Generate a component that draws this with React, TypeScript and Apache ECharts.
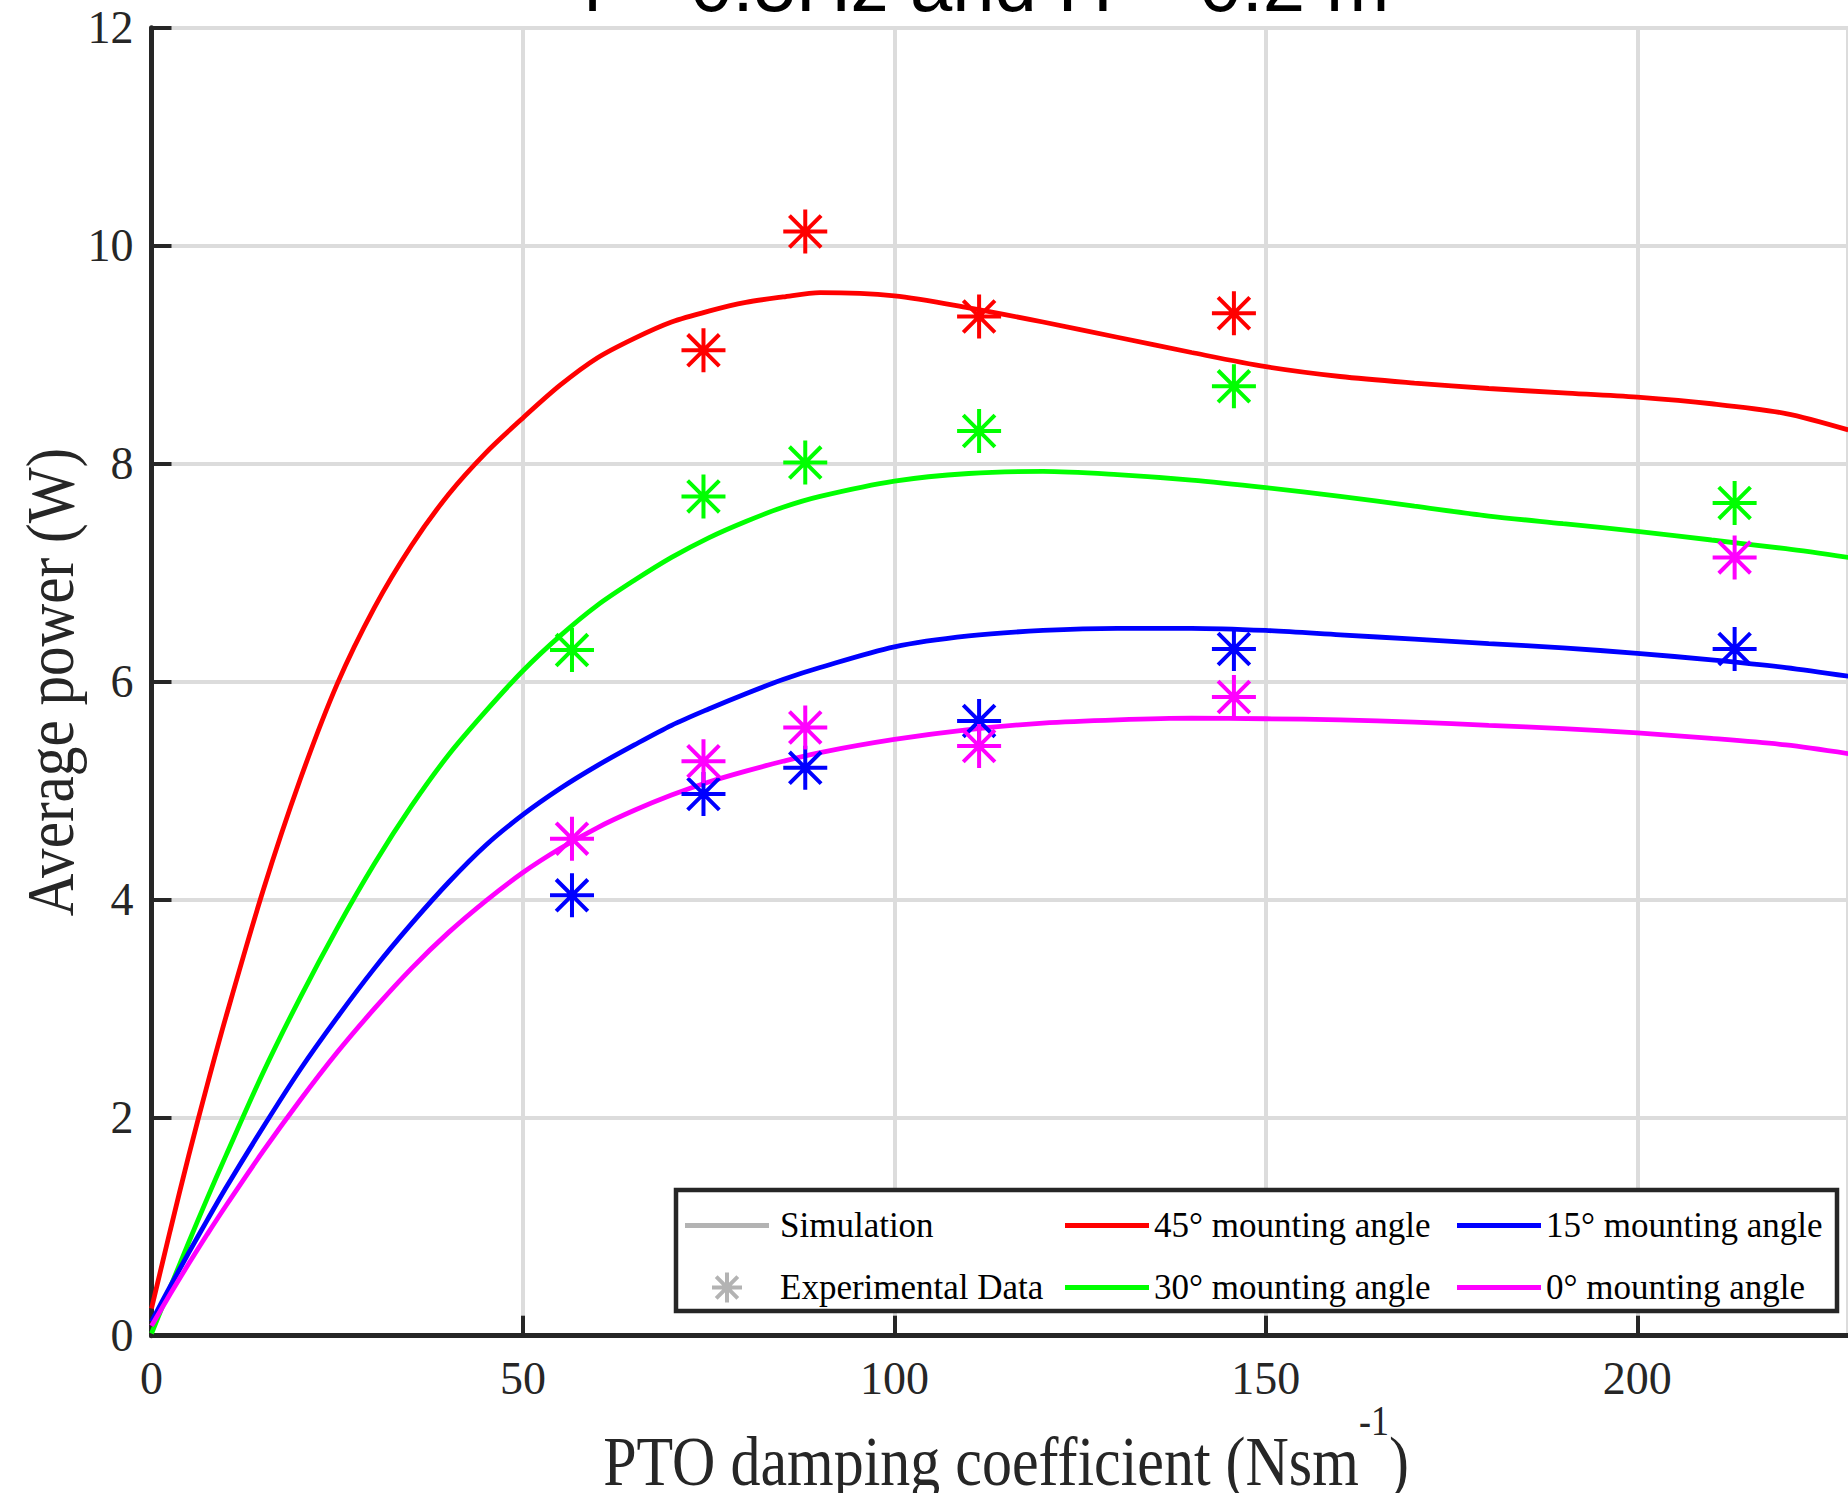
import React, { useEffect, useRef } from 'react';
import * as echarts from 'echarts';

// ---- data ----
const xTickValues = [0, 50, 100, 150, 200];
const yTickValues = [0, 2, 4, 6, 8, 10, 12];
const xMaxVisible = 228.36;

// simulation curves: [PTO damping, average power]
const sim45: number[][] = [
  [0, 0.25], [2.5, 0.96], [5, 1.65], [7.5, 2.3], [10, 2.92], [15, 4.08], [20, 5.1], [25, 5.98],
  [30, 6.68], [35, 7.25], [40, 7.72], [45, 8.1], [50, 8.42], [55, 8.72], [60, 8.97], [65, 9.15], [70, 9.3],
  [75, 9.4], [80, 9.48], [85, 9.53], [90, 9.57], [100, 9.54], [110, 9.43], [120, 9.3], [130, 9.16], [140, 9.02], [150, 8.89],
  [160, 8.8], [170, 8.74], [180, 8.69], [190, 8.65], [200, 8.61], [210, 8.55], [220, 8.46], [228.4, 8.31],
];
const sim30: number[][] = [
  [0, 0.02], [2.5, 0.44], [5, 0.855], [7.5, 1.26], [10, 1.65], [15, 2.41], [20, 3.1], [25, 3.74],
  [30, 4.33], [35, 4.86], [40, 5.33], [45, 5.73], [50, 6.1], [55, 6.42], [60, 6.7], [65, 6.93], [70, 7.14],
  [75, 7.32], [80, 7.47], [85, 7.6], [90, 7.7], [100, 7.84], [110, 7.91], [120, 7.93], [130, 7.9], [140, 7.85], [150, 7.78],
  [160, 7.7], [170, 7.61], [180, 7.52], [190, 7.45], [200, 7.38], [210, 7.3], [220, 7.22], [228.4, 7.14],
];
const sim15: number[][] = [
  [0, 0.13], [2.5, 0.45], [5, 0.76], [7.5, 1.06], [10, 1.355], [15, 1.91], [20, 2.44], [25, 2.92],
  [30, 3.37], [35, 3.78], [40, 4.16], [45, 4.5], [50, 4.78], [55, 5.02], [60, 5.23], [65, 5.42], [70, 5.6],
  [75, 5.75], [80, 5.89], [85, 6.02], [90, 6.13], [100, 6.32], [110, 6.42], [120, 6.47], [130, 6.49], [140, 6.49], [150, 6.47],
  [160, 6.43], [170, 6.39], [180, 6.35], [190, 6.31], [200, 6.26], [210, 6.2], [220, 6.13], [228.4, 6.05],
];
const sim0: number[][] = [
  [0, 0.09], [2.5, 0.38], [5, 0.66], [7.5, 0.93], [10, 1.19], [15, 1.69], [20, 2.16], [25, 2.6],
  [30, 3.0], [35, 3.37], [40, 3.7], [45, 3.99], [50, 4.25], [55, 4.47], [60, 4.66], [65, 4.82], [70, 4.96],
  [75, 5.08], [80, 5.18], [85, 5.27], [90, 5.35], [100, 5.47], [110, 5.56], [120, 5.62], [130, 5.65], [140, 5.665], [150, 5.66],
  [160, 5.65], [170, 5.63], [180, 5.6], [190, 5.57], [200, 5.53], [210, 5.48], [220, 5.42], [228.4, 5.34],
];

// experimental data
const exp45: number[][] = [[74.3, 9.04], [88, 10.13], [111.4, 9.35], [145.7, 9.38]];
const exp30: number[][] = [[56.6, 6.29], [74.3, 7.7], [88, 8.01], [111.4, 8.3], [145.7, 8.71], [213.1, 7.64]];
const exp15: number[][] = [[56.6, 4.04], [74.3, 4.97], [88, 5.21], [111.4, 5.64], [145.7, 6.3], [213.1, 6.3]];
const exp0: number[][] = [[56.6, 4.56], [74.3, 5.27], [88, 5.58], [111.4, 5.41], [145.7, 5.86], [213.1, 7.14]];

const names = ['45° mounting angle', '30° mounting angle', '15° mounting angle', '0° mounting angle'];
const colors = ['#ff0000', '#00ff00', '#0000ff', '#ff00ff'];

const SERIF = '"Liberation Serif", "Times New Roman", Times, serif';
const SANS = '"Liberation Sans", Arial, Helvetica, sans-serif';
const AST = 'path://M0 -10L0 10M-10 0L10 0M-7.2 -7.2L7.2 7.2M-7.2 7.2L7.2 -7.2';
const LINE_ICON = 'path://M0 0H84V5H0Z';
const AXIS_C = '#262626';
const GRID_C = '#dcdcdc';
const GRAY = '#b3b3b3';

function buildOption() {
  const sims = [sim45, sim30, sim15, sim0];
  const exps = [exp45, exp30, exp15, exp0];
  const series: any[] = [];
  sims.forEach((d, i) => {
    series.push({
      type: 'line', name: names[i], data: d, smooth: 0.3,
      showSymbol: false, symbol: 'none', silent: true, z: 2,
      lineStyle: { width: 4.8, color: colors[i] }, itemStyle: { color: colors[i] },
    });
  });
  exps.forEach((d, i) => {
    series.push({
      type: 'scatter', name: 'exp' + i, data: d, symbol: AST, symbolSize: 44, silent: true, z: 3,
      itemStyle: { color: colors[i], borderColor: colors[i], borderWidth: 4, opacity: 1 },
    });
  });
  series.push({ type: 'line', name: 'Simulation', data: [], itemStyle: { color: GRAY }, lineStyle: { color: GRAY } });
  series.push({ type: 'scatter', name: 'Experimental Data', data: [], symbol: AST,
    itemStyle: { color: GRAY, borderColor: GRAY, borderWidth: 4, opacity: 1 } });

  const legendText = { fontFamily: SERIF, fontSize: 35, color: '#000', lineHeight: 30 };
  const legendBase = {
    orient: 'vertical', top: 1208, itemWidth: 84, itemHeight: 30, itemGap: 27, padding: 0,
    textStyle: legendText, selectedMode: false, z: 5,
  };
  const lineItem = (n: string, c: string) => ({ name: n, icon: LINE_ICON, itemStyle: { color: c, borderWidth: 0 } });

  return {
    animation: false,
    backgroundColor: '#ffffff',
    grid: { left: 151.5, top: 27.7, right: 0, bottom: 157.3, containLabel: false },
    xAxis: {
      type: 'value', min: 0, max: xMaxVisible, interval: 50,
      axisLine: { show: true, onZero: false, lineStyle: { color: AXIS_C, width: 5 } },
      axisTick: { show: true, inside: true, length: 20, lineStyle: { color: AXIS_C, width: 4 } },
      axisLabel: {
        show: true, margin: 20, fontFamily: SERIF, fontSize: 46, color: AXIS_C, lineHeight: 46,
        showMaxLabel: false,
        formatter: (v: number) => (xTickValues.indexOf(v) >= 0 ? String(v) : ''),
      },
      splitLine: { show: true, lineStyle: { color: GRID_C, width: 4 } },
    },
    yAxis: {
      type: 'value', min: 0, max: 12, interval: 2,
      axisLine: { show: true, lineStyle: { color: AXIS_C, width: 5 } },
      axisTick: { show: true, inside: true, length: 20, lineStyle: { color: AXIS_C, width: 4 } },
      axisLabel: {
        show: true, margin: 18, fontFamily: SERIF, fontSize: 46, color: AXIS_C,
        formatter: (v: number) => (yTickValues.indexOf(v) >= 0 ? String(v) : ''),
      },
      splitLine: { show: true, lineStyle: { color: GRID_C, width: 4 } },
    },
    legend: [
      { ...legendBase, left: 685, textStyle: { ...legendText, padding: [0, 0, 0, 6] }, data: [
        { name: 'Simulation', icon: LINE_ICON, itemStyle: { color: GRAY, borderWidth: 0 } },
        { name: 'Experimental Data', icon: AST, itemStyle: { color: GRAY, borderColor: GRAY, borderWidth: 4 } },
      ] },
      { ...legendBase, left: 1065, data: [lineItem(names[0], colors[0]), lineItem(names[1], colors[1])] },
      { ...legendBase, left: 1457, data: [lineItem(names[2], colors[2]), lineItem(names[3], colors[3])] },
    ],
    graphic: [
      {
        type: 'rect', z: 3, silent: true,
        shape: { x: 676, y: 1190, width: 1161, height: 121 },
        style: { fill: '#ffffff', stroke: AXIS_C, lineWidth: 4.5 },
      },
      {
        type: 'text', x: 986, y: -16, z: 10, silent: true,
        style: { text: 'f = 0.5Hz and H = 0.2 m', fontFamily: SANS, fontSize: 76, fill: '#000',
          align: 'center', verticalAlign: 'middle' },
      },
      {
        type: 'text', x: 50, y: 682, rotation: Math.PI / 2, scaleX: 0.87, z: 10, silent: true,
        style: { text: 'Average power (W)', fontFamily: SERIF, fontSize: 68, fill: AXIS_C,
          align: 'center', verticalAlign: 'middle' },
      },
      {
        type: 'text', x: 1006, y: 1461, scaleX: 0.857, z: 10, silent: true,
        style: {
          text: '{a|PTO damping coefficient (Nsm}{s|-1}{a|)}',
          fill: AXIS_C, align: 'center', verticalAlign: 'middle',
          rich: {
            a: { fontFamily: SERIF, fontSize: 70, lineHeight: 124, verticalAlign: 'middle', fill: AXIS_C, color: AXIS_C },
            s: { fontFamily: SERIF, fontSize: 42, lineHeight: 42, verticalAlign: 'top', fill: AXIS_C, color: AXIS_C },
          },
        },
      },
    ],
    series,
  };
}

export default function App() {
  const ref = useRef<HTMLDivElement>(null);
  useEffect(() => {
    const chart = echarts.init(ref.current as HTMLDivElement, null, { renderer: 'svg' });
    chart.setOption(buildOption() as any);
    return () => chart.dispose();
  }, []);
  return (
    <div
      ref={ref}
      style={{ position: 'fixed', left: 0, top: 0, width: 1848, height: 1493, background: '#ffffff' }}
    />
  );
}
